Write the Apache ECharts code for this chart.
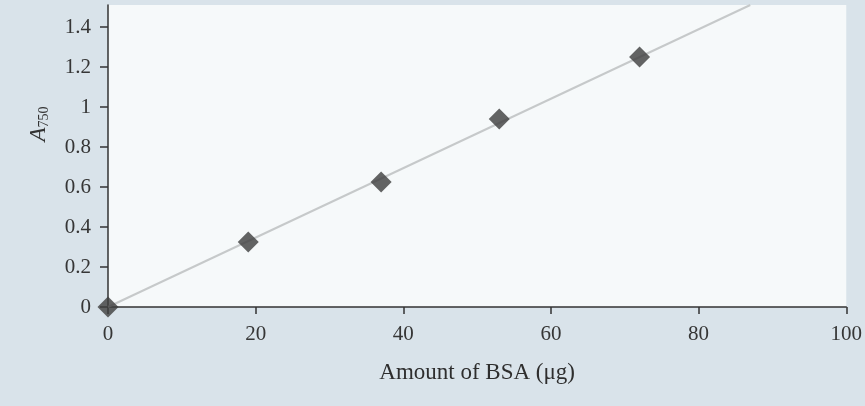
<!DOCTYPE html>
<html>
<head>
<meta charset="utf-8">
<script src="https://cdn.jsdelivr.net/npm/echarts@6/dist/echarts.min.js"></script>
<style>
html,body{margin:0;padding:0;background:#d9e3ea;}
#chart{width:865px;height:406px;}
</style>
</head>
<body>
<div id="chart"></div>
<script>
// Data
var bsaAmount = [0, 19, 37, 53, 72];          // µg
var absorbance = [0, 0.325, 0.625, 0.94, 1.25]; // A750
var trendX = [0, 87];
var trendY = [0, 1.51];
var xTicks = [0, 20, 40, 60, 80, 100];
var yTicks = [0, 0.2, 0.4, 0.6, 0.8, 1, 1.2, 1.4];

var points = bsaAmount.map(function (x, i) { return [x, absorbance[i]]; });
var trend = trendX.map(function (x, i) { return [x, trendY[i]]; });

var serif = '"Liberation Serif", "DejaVu Serif", serif';
var chart = echarts.init(document.getElementById('chart'));
chart.setOption({
  backgroundColor: '#d9e3ea',
  animation: false,
  grid: {
    left: 108, right: 15, top: 5, bottom: 99,
    show: true, backgroundColor: '#f6f9fa', borderWidth: 0
  },
  xAxis: {
    type: 'value', min: 0, max: 100, interval: 20,
    name: 'Amount of BSA (μg)',
    nameLocation: 'middle', nameGap: 54,
    nameTextStyle: { fontFamily: serif, fontSize: 23, color: '#2e2e2e' },
    axisLine: { show: true, lineStyle: { color: '#333', width: 1.5 } },
    axisTick: { show: true, length: 7, lineStyle: { color: '#333', width: 1.5 }, customValues: xTicks },
    axisLabel: { fontFamily: serif, fontSize: 21, color: '#363636', margin: 17, customValues: xTicks },
    splitLine: { show: false }
  },
  yAxis: {
    type: 'value', min: 0, max: 1.51, interval: 0.2,
    name: '{a|A}{s|750}',
    nameLocation: 'middle', nameGap: 57, nameRotate: 90,
    nameTextStyle: {
      padding: [0, 0, 0, 64],
      rich: {
        a: { fontFamily: serif, fontStyle: 'italic', fontSize: 23, color: '#333' },
        s: { fontFamily: serif, fontSize: 14, color: '#333', verticalAlign: 'bottom', padding: [10, 0, 0, 0] }
      }
    },
    axisLine: { show: true, lineStyle: { color: '#333', width: 1.5 } },
    axisTick: { show: true, length: 8, lineStyle: { color: '#333', width: 1.5 }, customValues: yTicks },
    axisLabel: { fontFamily: serif, fontSize: 21, color: '#363636', margin: 17, customValues: yTicks },
    splitLine: { show: false }
  },
  series: [
    {
      type: 'line', data: trend, symbol: 'none', silent: true,
      lineStyle: { color: '#c6c9ca', width: 2 }, z: 1
    },
    {
      type: 'scatter', data: points, symbol: 'diamond', symbolSize: 21,
      itemStyle: { color: '#3d3d3d' }, z: 3
    }
  ]
});
</script>
</body>
</html>
